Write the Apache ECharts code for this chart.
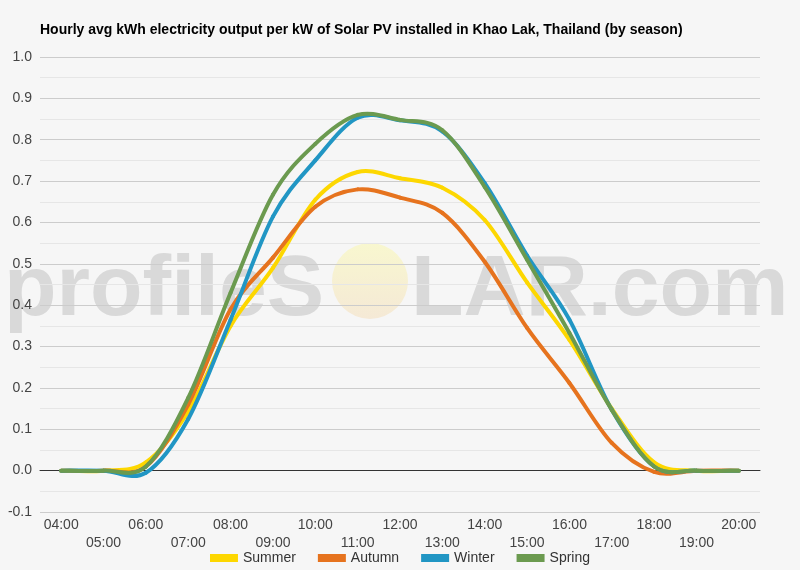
<!DOCTYPE html>
<html>
<head>
<meta charset="utf-8">
<script src="https://cdn.jsdelivr.net/npm/echarts@6/dist/echarts.min.js"></script>
<style>
html,body{margin:0;padding:0;background:#f6f6f6;}
#chart{width:800px;height:570px;}
</style>
</head>
<body>
<div id="chart"></div>
<script>
var hours = ['04:00','05:00','06:00','07:00','08:00','09:00','10:00','11:00','12:00','13:00','14:00','15:00','16:00','17:00','18:00','19:00','20:00'];
var summer = [0.0, 0.0, 0.02, 0.143, 0.35, 0.49, 0.655, 0.722, 0.707, 0.684, 0.606, 0.455, 0.316, 0.15, 0.02, 0.0, 0.0];
var autumn = [0.0, 0.0, 0.01, 0.16, 0.39, 0.515, 0.638, 0.68, 0.66, 0.623, 0.505, 0.345, 0.212, 0.067, -0.003, 0.0, 0.0];
var winter = [0.0, 0.0, -0.005, 0.125, 0.365, 0.614, 0.75, 0.853, 0.847, 0.82, 0.695, 0.52, 0.365, 0.147, 0.01, 0.0, 0.0];
var spring = [0.0, 0.0, 0.01, 0.176, 0.43, 0.667, 0.79, 0.86, 0.848, 0.823, 0.686, 0.51, 0.333, 0.147, 0.01, 0.0, 0.0];
var yTicks = { min: -0.1, max: 1.0, step: 0.1 };
var colors = { Summer: '#fdd700', Autumn: '#e6731e', Winter: '#2196c4', Spring: '#6b9a4f' };

var chart = echarts.init(document.getElementById('chart'), null, { renderer: 'canvas' });

// Smooth curve through the data points (Catmull-Rom style), positioned via the axes' own scales (api.coord)
function mkSeries(name, values) {
  var color = colors[name];
  return {
    name: name,
    type: 'custom',
    xAxisIndex: 0,
    yAxisIndex: 0,
    data: values.map(function (v, i) { return [i, v]; }),
    encode: { x: 0, y: 1 },
    itemStyle: { color: color },
    z: 3,
    renderItem: function (params, api) {
      if (params.dataIndex !== 0) { return null; }
      var pts = values.map(function (v, i) { return api.coord([i, v]); });
      var n = pts.length;
      var children = [];
      for (var i = 0; i < n - 1; i++) {
        var p0 = pts[Math.max(i - 1, 0)], p1 = pts[i], p2 = pts[i + 1], p3 = pts[Math.min(i + 2, n - 1)];
        children.push({
          type: 'bezierCurve',
          shape: {
            x1: p1[0], y1: p1[1],
            x2: p2[0], y2: p2[1],
            cpx1: p1[0] + (p2[0] - p0[0]) / 6, cpy1: p1[1] + (p2[1] - p0[1]) / 6,
            cpx2: p2[0] - (p3[0] - p1[0]) / 6, cpy2: p2[1] - (p3[1] - p1[1]) / 6
          },
          style: { stroke: color, lineWidth: 4, fill: null, lineCap: 'round', lineJoin: 'round' }
        });
      }
      return { type: 'group', children: children };
    }
  };
}

var font = 'Liberation Sans, Arial, sans-serif';
var option = {
  backgroundColor: '#f6f6f6',
  animation: false,
  title: {
    text: 'Hourly avg kWh electricity output per kW of Solar PV installed in Khao Lak, Thailand (by season)',
    left: 35,
    top: 18,
    textStyle: { fontFamily: font, fontSize: 14, fontWeight: 'bold', color: '#000' }
  },
  graphic: [
    {
      type: 'text', left: 4, top: 248, z: -10, silent: true,
      style: { text: 'profileS', fill: '#d9d9d9', font: 'bold 86px "Liberation Sans", Arial, sans-serif' }
    },
    {
      type: 'circle', z: -10, silent: true,
      shape: { cx: 370, cy: 281, r: 38 },
      style: {
        fill: new echarts.graphic.LinearGradient(0, 0, 0, 1, [
          { offset: 0, color: '#f8f7cf' },
          { offset: 1, color: '#f5e9d6' }
        ])
      }
    },
    {
      type: 'text', left: 411, top: 248, z: -10, silent: true,
      style: { text: 'LAR.com', fill: '#d9d9d9', font: 'bold 86px "Liberation Sans", Arial, sans-serif' }
    }
  ],
  legend: {
    bottom: 5,
    left: 'center',
    padding: 0,
    itemWidth: 28,
    itemHeight: 8,
    itemGap: 22,
    icon: 'rect',
    textStyle: { fontFamily: font, fontSize: 14, color: '#333' },
    data: ['Summer', 'Autumn', 'Winter', 'Spring']
  },
  grid: { left: 40, right: 40, top: 57, bottom: 58, containLabel: false },
  xAxis: [
    {
      type: 'category',
      data: hours,
      boundaryGap: true,
      axisLine: { show: false, onZero: false },
      axisTick: { show: false },
      splitLine: { show: false },
      axisLabel: {
        interval: 0,
        margin: 4,
        fontFamily: font,
        fontSize: 14,
        color: '#444',
        lineHeight: 18,
        formatter: function (v, i) { return (i % 2 === 1) ? '\n' + v : v; }
      }
    },
    {
      type: 'category',
      data: hours,
      position: 'top',
      boundaryGap: true,
      axisLine: { show: true, onZero: true, lineStyle: { color: '#333', width: 1 } },
      axisTick: { show: false },
      axisLabel: { show: false },
      splitLine: { show: false }
    }
  ],
  yAxis: {
    type: 'value',
    min: yTicks.min,
    max: yTicks.max,
    interval: yTicks.step,
    axisLine: { show: false },
    axisTick: { show: false },
    axisLabel: {
      margin: 8,
      fontFamily: font,
      fontSize: 14,
      color: '#444',
      formatter: function (v) { return v.toFixed(1); }
    },
    splitLine: { show: true, lineStyle: { color: '#cccccc', width: 1 } },
    minorTick: { show: false, splitNumber: 2 },
    minorSplitLine: { show: true, lineStyle: { color: '#e6e6e6', width: 1 } }
  },
  series: [
    mkSeries('Summer', summer),
    mkSeries('Autumn', autumn),
    mkSeries('Winter', winter),
    mkSeries('Spring', spring)
  ]
};
chart.setOption(option);
</script>
</body>
</html>
